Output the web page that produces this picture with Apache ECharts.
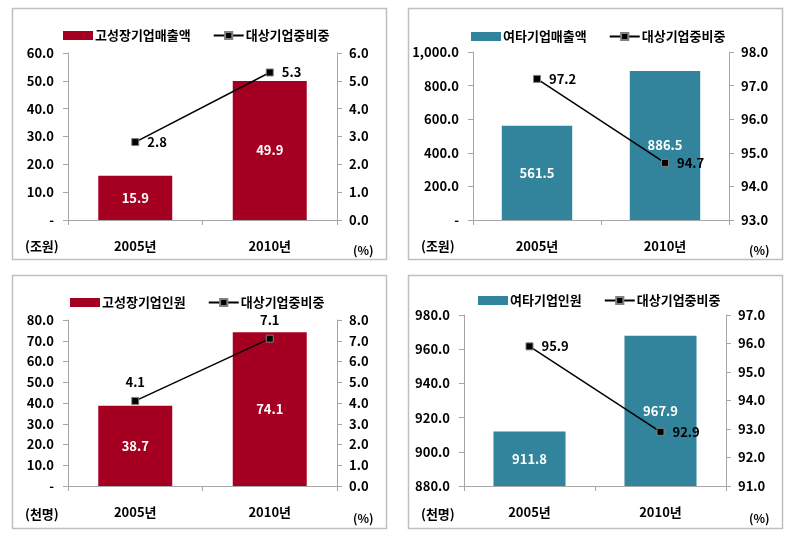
<!DOCTYPE html>
<html><head><meta charset="utf-8">
<script src="https://cdn.jsdelivr.net/npm/echarts@6/dist/echarts.min.js"></script>
<style>html,body{margin:0;padding:0;background:#fff}#c{width:792px;height:536px}</style>
</head><body><div id="c"></div>
<script>
// Data
const categories = ['2005년', '2010년'];
const lineName = '대상기업중비중';

const p1BarName = '고성장기업매출액';
const p1Bar = [15.9, 49.9];
const p1Line = [2.8, 5.3];

const p2BarName = '여타기업매출액';
const p2Bar = [561.5, 886.5];
const p2Line = [97.2, 94.7];

const p3BarName = '고성장기업인원';
const p3Bar = [38.7, 74.1];
const p3Line = [4.1, 7.1];

const p4BarName = '여타기업인원';
const p4Bar = [911.8, 967.9];
const p4Line = [95.9, 92.9];

const units = ['(조원)', '(조원)', '(천명)', '(천명)'];

const RED = '#a50021', TEAL = '#31849b';
const FONT = '"Noto Sans CJK KR", sans-serif';
const AXC = '#a6a6a6';

const fmtLeft = (v) => v === 0 ? '-' : v.toLocaleString('en-US', {minimumFractionDigits: 1, maximumFractionDigits: 1});
const fmtLeft4 = (v) => v.toFixed(1);
const fmtRight = (v) => v.toFixed(1);

const panels = [
  {grid:{left:68, top:53, width:269, height:167}, barName:p1BarName, bar:p1Bar, line:p1Line, color:RED,
   l:{min:0,max:60,interval:10,fmt:fmtLeft}, r:{min:0,max:6,interval:1}, linePos:['right','right'],
   legend:{left:58, top:24}, unit:{x:25, y:240}, pct:{x:353, y:244}},
  {grid:{left:473, top:52, width:256, height:168}, barName:p2BarName, bar:p2Bar, line:p2Line, color:TEAL,
   l:{min:0,max:1000,interval:200,fmt:fmtLeft}, r:{min:93,max:98,interval:1}, linePos:['right','right'],
   legend:{left:466, top:25}, unit:{x:421, y:240}, pct:{x:749, y:244}},
  {grid:{left:68, top:320, width:269, height:166}, barName:p3BarName, bar:p3Bar, line:p3Line, color:RED,
   l:{min:0,max:80,interval:10,fmt:fmtLeft}, r:{min:0,max:8,interval:1}, linePos:['top','top'],
   legend:{left:65, top:291}, unit:{x:25, y:508}, pct:{x:353, y:512}},
  {grid:{left:464, top:315, width:262, height:171}, barName:p4BarName, bar:p4Bar, line:p4Line, color:TEAL,
   l:{min:880,max:980,interval:20,fmt:fmtLeft4}, r:{min:91,max:97,interval:1}, linePos:['right','right'],
   legend:{left:473, top:289}, unit:{x:421, y:508}, pct:{x:749, y:512}}
];

const option = {
  animation:false,
  textStyle:{fontFamily:FONT},
  grid:[], xAxis:[], yAxis:[], series:[], legend:[], graphic:[]
};

const frames = [[12,8,374,251],[408,8,374,251],[12,275,374,253],[408,275,374,253]];
frames.forEach(f => option.graphic.push({type:'rect', shape:{x:f[0]+0.5,y:f[1]+0.5,width:f[2],height:f[3]}, style:{fill:'none', stroke:'#bfbfbf', lineWidth:1.5}, silent:true}));

panels.forEach((p, i) => {
  option.grid.push(p.grid);
  option.xAxis.push({type:'category', gridIndex:i, data:categories,
    axisLine:{lineStyle:{color:AXC}}, axisTick:{show:true, length:5, lineStyle:{color:AXC}},
    axisLabel:{color:'#000', fontSize:13, fontWeight:'bold', margin:20, fontFamily:FONT}});
  option.yAxis.push({type:'value', gridIndex:i, min:p.l.min, max:p.l.max, interval:p.l.interval, position:'left',
    axisLine:{show:true, lineStyle:{color:AXC}}, axisTick:{show:true, length:5, lineStyle:{color:AXC}},
    splitLine:{show:false},
    axisLabel:{color:'#000', fontSize:13, fontWeight:'bold', margin:14, formatter:p.l.fmt, fontFamily:FONT}});
  option.yAxis.push({type:'value', gridIndex:i, min:p.r.min, max:p.r.max, interval:p.r.interval, position:'right',
    axisLine:{show:true, lineStyle:{color:AXC}}, axisTick:{show:true, length:5, lineStyle:{color:AXC}},
    splitLine:{show:false},
    axisLabel:{color:'#000', fontSize:13, fontWeight:'bold', margin:12, formatter:fmtRight, fontFamily:FONT}});
  option.series.push({type:'bar', name:p.barName, xAxisIndex:i, yAxisIndex:2*i, data:p.bar,
    barCategoryGap:'45%', itemStyle:{color:p.color},
    label:{show:true, position:'inside', color:'#fff', fontSize:13, fontWeight:'bold', formatter:(d)=>d.value.toFixed(1), fontFamily:FONT}});
  option.series.push({type:'line', name:lineName, xAxisIndex:i, yAxisIndex:2*i+1,
    data:p.line.map((v,k)=>({value:v, label:{position:p.linePos[k]}})),
    symbol:'rect', symbolSize:7, lineStyle:{color:'#000', width:1.5},
    itemStyle:{color:'#000', borderColor:'#808080', borderWidth:1},
    label:{show:true, color:'#000', fontSize:13, fontWeight:'bold', distance:8, formatter:(d)=>d.value.toFixed(1), fontFamily:FONT}});
  option.legend.push({left:p.legend.left, top:p.legend.top, itemGap:22, itemWidth:30, itemHeight:9,
    data:[{name:p.barName, icon:'rect', itemStyle:{color:p.color}}, {name:lineName}],
    textStyle:{color:'#000', fontSize:13, fontWeight:'bold', fontFamily:FONT, padding:[0,0,0,-3]},
    selectedMode:false});
  option.graphic.push({type:'text', left:p.unit.x, top:p.unit.y, style:{text:units[i], fill:'#000', font:'bold 13px '+FONT}});
  option.graphic.push({type:'text', left:p.pct.x, top:p.pct.y, style:{text:'(%)', fill:'#000', font:'bold 12px '+FONT}});
});

const chart = echarts.init(document.getElementById('c'), null, {renderer:'canvas'});
chart.setOption(option);
</script></body></html>
